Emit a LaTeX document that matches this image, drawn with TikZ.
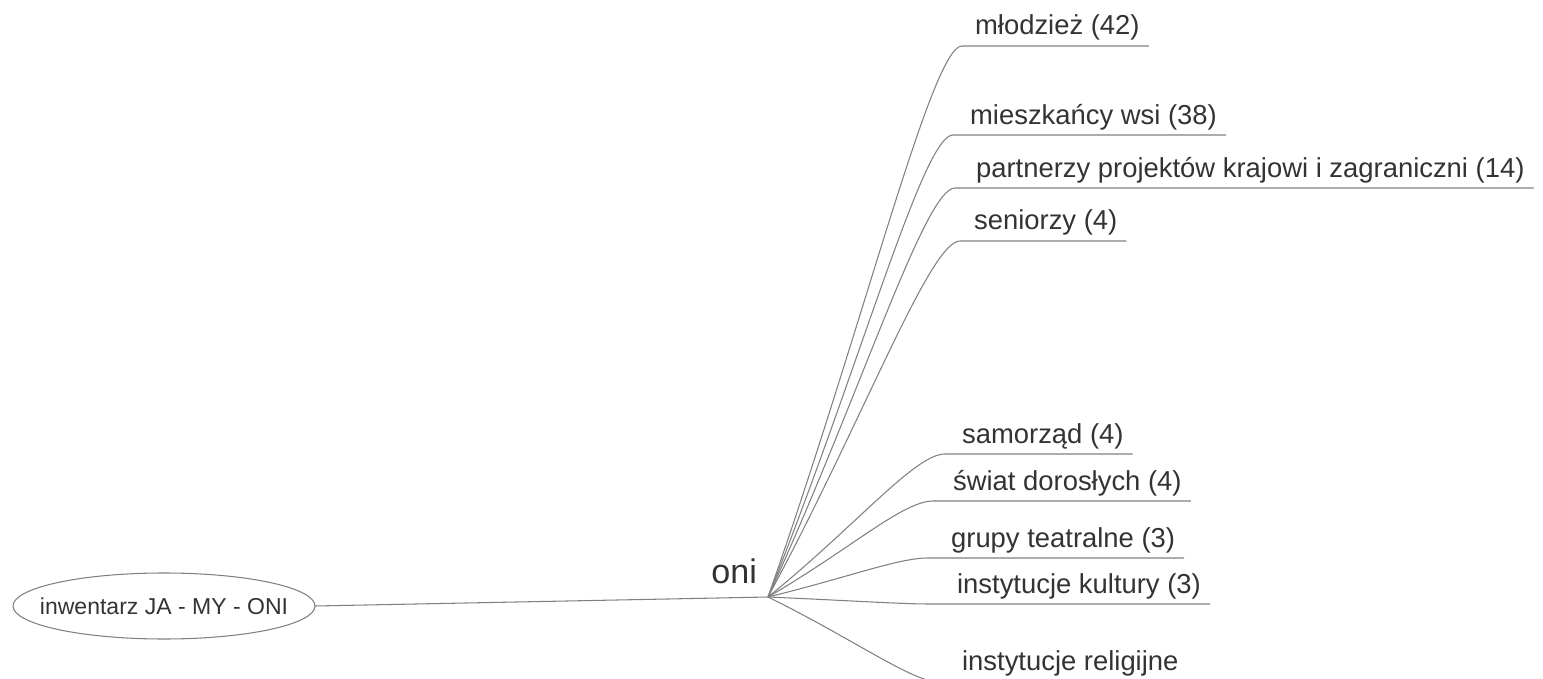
\documentclass[tikz,border=0pt]{standalone}
\usepackage{fontspec}
\setmainfont{Liberation Sans}
\usetikzlibrary{calc}
\definecolor{linegray}{HTML}{808080}
\definecolor{textgray}{HTML}{333333}
\tikzset{
  root/.style={inner sep=0pt, text=textgray, font=\fontsize{13.1}{15}\selectfont},
  hubtext/.style={anchor=base west, inner sep=0pt, text=textgray, font=\fontsize{19.4}{22}\selectfont},
  leaf/.style={anchor=base west, inner xsep=5pt, inner ysep=0pt, text=textgray, font=\fontsize{15.6}{18}\selectfont},
  branch/.style={draw=linegray, line width=0.6pt},
}
\begin{document}
\begin{tikzpicture}[x=0.02cm, y=-0.02cm]
\clip (0,0) rectangle (1543,679);
\node[root] (root) at (164,606) {inwentarz JA - MY - ONI};
\draw[branch] (root.center) ellipse [x radius=151, y radius=33];
\coordinate (root-e) at ($(root.center)+(151,0)$);
\coordinate (hub) at (768,597);
\node[hubtext] (oni) at (711,583) {oni};
\draw[branch] (root-e) -- (hub);
\coordinate (mlodziez-s) at (962,46);
\node[leaf] (mlodziez) at (966,35) {młodzież (42)};
\draw[branch] (hub) .. controls ($(hub)!0.5!(mlodziez-s)$) and ($(mlodziez-s)+(-30,0)$) .. (mlodziez-s) -- (mlodziez.east |- mlodziez-s);
\coordinate (mieszkancy-s) at (953,135);
\node[leaf] (mieszkancy) at (961,125) {mieszkańcy wsi (38)};
\draw[branch] (hub) .. controls ($(hub)!0.5!(mieszkancy-s)$) and ($(mieszkancy-s)+(-30,0)$) .. (mieszkancy-s) -- (mieszkancy.east |- mieszkancy-s);
\coordinate (partnerzy-s) at (955,188);
\node[leaf] (partnerzy) at (967,177) {partnerzy projektów krajowi i zagraniczni (14)};
\draw[branch] (hub) .. controls ($(hub)!0.5!(partnerzy-s)$) and ($(partnerzy-s)+(-30,0)$) .. (partnerzy-s) -- (partnerzy.east |- partnerzy-s);
\coordinate (seniorzy-s) at (960,241);
\node[leaf] (seniorzy) at (965,230) {seniorzy (4)};
\draw[branch] (hub) .. controls ($(hub)!0.5!(seniorzy-s)$) and ($(seniorzy-s)+(-30,0)$) .. (seniorzy-s) -- (seniorzy.east |- seniorzy-s);
\coordinate (samorzad-s) at (945,454);
\node[leaf] (samorzad) at (953,443) {samorząd (4)};
\draw[branch] (hub) .. controls ($(hub)!0.5!(samorzad-s)$) and ($(samorzad-s)+(-30,0)$) .. (samorzad-s) -- (samorzad.east |- samorzad-s);
\coordinate (swiat-s) at (933,501);
\node[leaf] (swiat) at (944,490) {świat dorosłych (4)};
\draw[branch] (hub) .. controls ($(hub)!0.5!(swiat-s)$) and ($(swiat-s)+(-30,0)$) .. (swiat-s) -- (swiat.east |- swiat-s);
\coordinate (grupy-s) at (928,558);
\node[leaf] (grupy) at (942,547) {grupy teatralne (3)};
\draw[branch] (hub) .. controls ($(hub)!0.5!(grupy-s)$) and ($(grupy-s)+(-30,0)$) .. (grupy-s) -- (grupy.east |- grupy-s);
\coordinate (kultury-s) at (930,604);
\node[leaf] (kultury) at (948,593) {instytucje kultury (3)};
\draw[branch] (hub) .. controls ($(hub)!0.5!(kultury-s)$) and ($(kultury-s)+(-30,0)$) .. (kultury-s) -- (kultury.east |- kultury-s);
\coordinate (religijne-s) at (943,683);
\node[leaf] (religijne) at (953,670) {instytucje religijne};
\draw[branch] (hub) .. controls ($(hub)!0.5!(religijne-s)$) and ($(religijne-s)+(-30,0)$) .. (religijne-s) -- (religijne.east |- religijne-s);
\end{tikzpicture}
\end{document}
